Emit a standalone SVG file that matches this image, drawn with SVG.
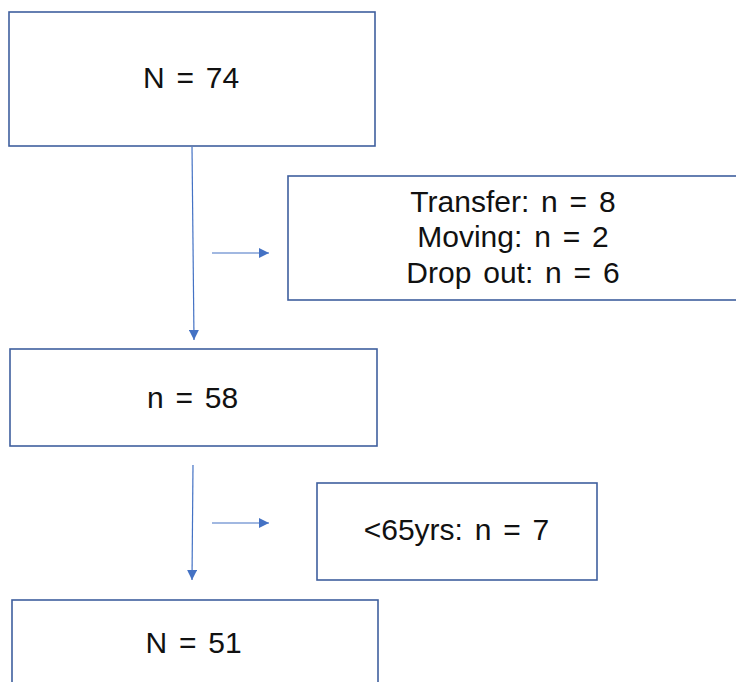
<svg xmlns="http://www.w3.org/2000/svg" width="736" height="682" viewBox="0 0 736 682">
<style>
.box{fill:#ffffff;stroke:#3f5f9e;stroke-width:1.6}
.lbl{font-family:"Liberation Sans","Noto Sans",Arial,sans-serif;font-size:30px;word-spacing:3.5px;fill:#111111;text-anchor:middle}
.con{stroke:#4472c4;stroke-width:1.2;fill:none}
</style>
<defs>
<marker id="ah" viewBox="0 0 10 10" refX="10" refY="5" markerWidth="10" markerHeight="10" markerUnits="userSpaceOnUse" orient="auto">
<path d="M0,0 L10,5 L0,10 z" fill="#4472c4"/>
</marker>
</defs>
<rect width="736" height="682" fill="#ffffff"/>
<g id="connectors">
<line class="con" x1="192" y1="147" x2="194" y2="340" marker-end="url(#ah)"/>
<line class="con" x1="212" y1="253" x2="269" y2="253" marker-end="url(#ah)"/>
<line class="con" x1="193" y1="465" x2="192" y2="580" marker-end="url(#ah)"/>
<line class="con" x1="212" y1="523" x2="269" y2="523" marker-end="url(#ah)"/>
</g>
<g id="n74">
<rect class="box" x="9" y="12" width="366" height="134"/>
<text class="lbl" x="191" y="88">N = 74</text>
</g>
<g id="excluded1">
<rect class="box" x="288" y="176" width="460" height="124"/>
<text class="lbl" x="513" y="212">Transfer: n = 8</text>
<text class="lbl" x="513" y="247">Moving: n = 2</text>
<text class="lbl" x="513" y="283">Drop out: n = 6</text>
</g>
<g id="n58">
<rect class="box" x="10" y="349" width="367" height="97"/>
<text class="lbl" x="192.5" y="408">n = 58</text>
</g>
<g id="excluded2">
<rect class="box" x="317" y="483" width="280" height="97"/>
<text class="lbl" x="456.5" y="540">&lt;65yrs: n = 7</text>
</g>
<g id="n51">
<rect class="box" x="12" y="600" width="366" height="100"/>
<text class="lbl" x="193.5" y="653">N = 51</text>
</g>
</svg>
